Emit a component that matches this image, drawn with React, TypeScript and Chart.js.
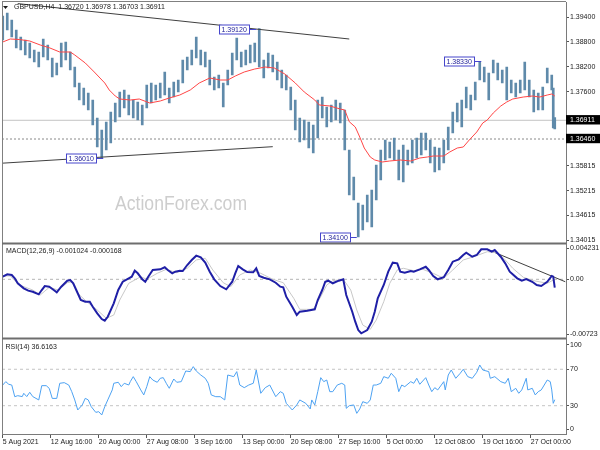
import React, { useEffect, useRef } from 'react';
import { Chart, registerables } from 'chart.js';

Chart.register(...registerables);

// ---------- data ----------
const dateLabels = ['5 Aug 2021', '12 Aug 16:00', '20 Aug 00:00', '27 Aug 08:00', '3 Sep 16:00', '13 Sep 00:00',
  '20 Sep 08:00', '27 Sep 16:00', '5 Oct 00:00', '12 Oct 08:00', '19 Oct 16:00', '27 Oct 00:00'];
const BARS_PER_LABEL = 32;

// H4 price bars (sampled every 3 bars), high / low
const barHigh = [
  1.39424, 1.39497, 1.39328, 1.39087, 1.38918, 1.38846, 1.38774, 1.38605, 1.38557, 1.38870,
  1.38726, 1.38412, 1.38292, 1.38774, 1.38798, 1.38557, 1.38195, 1.37810, 1.37689, 1.37569,
  1.37400, 1.36966, 1.36677, 1.36870, 1.37111, 1.37328, 1.37593, 1.37641, 1.37520, 1.37400,
  1.37352, 1.37280, 1.37761, 1.37810, 1.37761, 1.37810, 1.38075, 1.37689, 1.37834, 1.37882,
  1.38364, 1.38436, 1.38605, 1.38918, 1.38605, 1.38557, 1.38364, 1.37954, 1.38003, 1.37810,
  1.38123, 1.38533, 1.38894, 1.38557, 1.38605, 1.38726, 1.38774, 1.39120, 1.38364, 1.38533,
  1.38485, 1.38316, 1.38123, 1.38003, 1.37713, 1.37400, 1.36966, 1.36918, 1.36870, 1.36798,
  1.37400, 1.37472, 1.37231, 1.37280, 1.37400, 1.37328, 1.37159, 1.36195, 1.35544, 1.34918,
  1.34870, 1.35111, 1.35231, 1.35833, 1.36195, 1.36436, 1.36388, 1.36484, 1.36195, 1.36316,
  1.36195, 1.36436, 1.36484, 1.36605, 1.36605, 1.36436, 1.36267, 1.36243, 1.36436, 1.36749,
  1.37111, 1.37328, 1.37400, 1.37713, 1.37520, 1.37834, 1.38330, 1.38195, 1.38051, 1.38364,
  1.38292, 1.38123, 1.38195, 1.37882, 1.37810, 1.37882, 1.38316, 1.37882, 1.37641, 1.37569,
  1.37713, 1.38171, 1.38003, 1.37689, 1.36978];
const barLow = [
  1.38846, 1.39087, 1.38918, 1.38653, 1.38605, 1.38485, 1.38412, 1.38316, 1.38195, 1.38436,
  1.38364, 1.37954, 1.38003, 1.38195, 1.38364, 1.38123, 1.37713, 1.37400, 1.37280, 1.37159,
  1.36798, 1.36267, 1.36010, 1.36195, 1.36364, 1.36870, 1.36990, 1.37207, 1.37039, 1.36966,
  1.36918, 1.36798, 1.37207, 1.37328, 1.37400, 1.37448, 1.37520, 1.37328, 1.37472, 1.37593,
  1.37810, 1.38123, 1.38244, 1.38412, 1.38244, 1.38195, 1.37761, 1.37641, 1.37689, 1.37231,
  1.37761, 1.38003, 1.38364, 1.38195, 1.38244, 1.38292, 1.38316, 1.38195, 1.37930, 1.38171,
  1.38075, 1.37882, 1.37689, 1.37641, 1.37159, 1.36677, 1.36388, 1.36436, 1.36243, 1.36123,
  1.36484, 1.36966, 1.36749, 1.36870, 1.36918, 1.36846, 1.36195, 1.35111, 1.34990, 1.34100,
  1.34267, 1.34460, 1.34339, 1.34990, 1.35472, 1.35954, 1.36002, 1.35954, 1.35472, 1.35424,
  1.35833, 1.35882, 1.36002, 1.36075, 1.36195, 1.35882, 1.35665, 1.35713, 1.35882, 1.36195,
  1.36605, 1.36870, 1.36749, 1.37207, 1.37159, 1.37400, 1.37882, 1.37834, 1.37400, 1.38051,
  1.37882, 1.37810, 1.37400, 1.37569, 1.37472, 1.37569, 1.37641, 1.37472, 1.37111, 1.37159,
  1.37159, 1.37810, 1.37641, 1.36725, 1.36703];
const barIndex = barHigh.map((_, i) => (i < 123 ? i * 3 : 367 + (i - 123)));

// moving average [bar index, price]
const maLine: [number, number][] = [
  [0, 1.38798], [5, 1.3887], [11, 1.38858], [18, 1.38822], [25, 1.38726], [31, 1.3866], [38, 1.38557], [45, 1.38557],
  [48, 1.38485], [55, 1.38292], [61, 1.38075], [68, 1.3781], [71, 1.37641], [75, 1.37496], [78, 1.37424], [85, 1.374],
  [91, 1.37424], [98, 1.37328], [105, 1.37376], [111, 1.37448], [118, 1.3752], [125, 1.37641], [131, 1.3781], [138, 1.3793],
  [145, 1.37882], [150, 1.37882], [155, 1.37978], [161, 1.38075], [168, 1.38147], [175, 1.38195], [181, 1.38171], [188, 1.38027],
  [195, 1.3781], [201, 1.37593], [208, 1.374], [211, 1.3728], [218, 1.37256], [225, 1.37183], [228, 1.37159], [231, 1.36877],
  [235, 1.36749], [238, 1.36508], [241, 1.36243], [245, 1.36026], [248, 1.35954], [253, 1.35906], [258, 1.3593], [265, 1.35954],
  [272, 1.3593], [278, 1.36002], [283, 1.36026], [287, 1.3605], [294, 1.3605], [298, 1.36147], [303, 1.36243], [307, 1.36267],
  [311, 1.36436], [316, 1.36629], [320, 1.36846], [323, 1.36918], [327, 1.37087], [332, 1.37255], [336, 1.37352], [340, 1.37424],
  [347, 1.37472], [353, 1.37496], [358, 1.37472], [363, 1.3752], [366, 1.37545], [368, 1.37496]];

const topTrend: [number, number][] = [[10, 1.39723], [231, 1.3887]];
const bottomTrend: [number, number][] = [[-0.5, 1.35877], [180, 1.36275]];
const supportLevel = 1.3646;
const lastPrice = 1.36911;
const priceNotes = [
  { idx: 169, price: 1.3912, text: '1.39120' },
  { idx: 67, price: 1.3601, text: '1.36010' },
  { idx: 236, price: 1.341, text: '1.34100' },
  { idx: 319, price: 1.3833, text: '1.38330' },
];
const priceTicks = [1.394, 1.388, 1.382, 1.376, 1.36911, 1.3646, 1.35815, 1.35215, 1.34615, 1.34015];
const boxedTicks = [1.36911, 1.3646];

// MACD [bar index, value]
const macdLine: [number, number][] = [
  [0, 0.00032], [3, 0.00062], [6, 0.00053], [8, 0.00012], [10, -0.00049], [14, -0.00111], [17, -0.0014], [20, -0.00153],
  [24, -0.00185], [26, -0.00132], [28, -0.00083], [31, -0.00091], [34, -0.00132], [36, -0.0016], [39, -0.00091], [43, -0.00017],
  [45, -0.00009], [47, -0.00049], [49, -0.00132], [52, -0.00255], [55, -0.00276], [58, -0.00276], [60, -0.00338], [63, -0.00419],
  [66, -0.00489], [68, -0.0051], [70, -0.00461], [74, -0.00296], [77, -0.00132], [80, -0.0003], [84, 0.00012], [86, 0.00032],
  [88, 0.00106], [90, 0.00074], [93, 0], [95, -0.0003], [97, 0.00032], [100, 0.00115], [105, 0.00123], [108, 0.00148],
  [110, 0.00115], [113, 0.00074], [115, 0.00094], [118, 0.00106], [120, 0.00102], [123, 0.00176], [126, 0.00238], [129, 0.00291],
  [132, 0.00271], [135, 0.00205], [138, 0.00094], [141, 0], [145, -0.00083], [149, -0.00123], [153, -0.0003], [155, 0.00074],
  [157, 0.00164], [160, 0.00123], [163, 0.0009], [167, 0.00086], [169, 0.00136], [171, 0.00041], [174, 0.0002], [178, 0],
  [182, -0.00042], [185, -0.00091], [187, -0.00099], [189, -0.00214], [193, -0.00338], [196, -0.0044], [198, -0.00399], [203, -0.00387],
  [208, -0.0037], [210, -0.00255], [213, -0.00132], [215, -0.0003], [217, -0.00017], [220, -0.00049], [224, -0.00017], [227, 0],
  [229, -0.00193], [233, -0.00399], [235, -0.00522], [237, -0.00625], [239, -0.00665], [243, -0.00625], [246, -0.00522], [248, -0.00399],
  [250, -0.00234], [254, -0.0007], [257, 0.00094], [260, 0.00205], [263, 0.00197], [265, 0.00094], [268, 0.00081], [272, 0.00102],
  [274, 0.00094], [278, 0.00123], [282, 0.00155], [284, 0.00115], [287, 0.00041], [290, 0], [294, 0.00025], [297, 0.00115],
  [300, 0.00217], [304, 0.00246], [307, 0.00299], [309, 0.00328], [313, 0.00278], [316, 0.00299], [319, 0.0037], [323, 0.0037],
  [326, 0.0034], [328, 0.00361], [332, 0.00278], [335, 0.00197], [338, 0.00094], [343, 0.00012], [346, -0.00017], [349, 0.00004],
  [353, -0.0003], [356, -0.0007], [359, -0.00083], [363, -0.0003], [366, 0.00041], [367, 0.00032], [368, -0.00102]];
const signalLine: [number, number][] = [
  [0, 0.00041], [5, 0.00041], [11, -0.0007], [20, -0.00132], [25, -0.00193], [31, -0.00099], [37, -0.00132], [43, -0.00042],
  [46, -0.0003], [50, -0.00172], [56, -0.00276], [63, -0.00378], [69, -0.0048], [74, -0.0044], [78, -0.00255], [84, -0.00049],
  [92, 0.00032], [96, 0], [103, 0.00074], [109, 0.00123], [116, 0.00081], [123, 0.00136], [129, 0.00238], [135, 0.00259],
  [140, 0.00115], [147, -0.00042], [152, -0.00091], [158, 0.00053], [165, 0.00115], [172, 0.00074], [180, 0], [187, -0.00042],
  [194, -0.00234], [198, -0.0037], [207, -0.0037], [212, -0.00214], [216, -0.0007], [220, -0.00017], [227, 0], [232, -0.00132],
  [236, -0.00378], [240, -0.00563], [245, -0.00616], [249, -0.00501], [254, -0.00276], [258, -0.00049], [263, 0.00115], [267, 0.00136],
  [274, 0.00106], [280, 0.00123], [287, 0.00074], [294, 0.00012], [300, 0.00115], [307, 0.00238], [314, 0.00278], [323, 0.0034],
  [329, 0.00328], [334, 0.00259], [340, 0.00136], [347, 0.00025], [354, -0.00017], [363, -0.00049], [367, -0.00009], [368, -0.00017]];
const macdTrend: [number, number][] = [[324, 0.00361], [375, -0.0003]];
const macdAxisValues = [0.00382, 0, -0.00678];
const macdAxisLabels = ['0.004231', '0.00', '-0.00723'];

// RSI(14) [bar index, value]
const rsiLine: [number, number][] = [
  [0, 52.7], [2, 56.4], [4, 53.5], [6, 52.7], [8, 39.9], [10, 41], [13, 40], [14, 43.6], [16, 40], [18, 44.7], [20, 40], [24, 36.3],
  [26, 52], [29, 52], [31, 49], [33, 38], [36, 38], [38, 54.6], [41, 55.3], [44, 52.7], [46, 45.4], [48, 36.3], [50, 25.3], [53, 30.8],
  [55, 38.1], [57, 36.3], [59, 28.9], [62, 22.7], [64, 23.4], [66, 19.8], [68, 28.9], [70, 36.3], [73, 47.3], [74, 54.6], [77, 55.7],
  [79, 50.9], [81, 54.6], [84, 52.7], [85, 56.4], [87, 61.9], [89, 56.4], [92, 47.3], [94, 41.8], [96, 50.9], [98, 61.9], [100, 58.2],
  [103, 55.7], [105, 60.1], [107, 60.8], [109, 54.6], [111, 49.1], [114, 59.3], [116, 55.7], [119, 56.4], [122, 68.1], [125, 67.4],
  [127, 72.9], [129, 68.1], [132, 63.7], [135, 60.1], [137, 54.6], [139, 41.8], [142, 39.9], [145, 39.9], [148, 36.3], [150, 63.7],
  [154, 61.9], [156, 67.4], [158, 52.7], [161, 49.8], [164, 52.7], [167, 54.6], [169, 69.2], [172, 43.6], [175, 49.8], [178, 52.7],
  [182, 39.9], [185, 45.4], [187, 43.6], [189, 32.6], [193, 25.3], [196, 30.8], [198, 36.3], [202, 32.6], [205, 26.4], [206, 36.3],
  [208, 30.8], [210, 45.4], [212, 60.8], [214, 56.4], [216, 58.2], [218, 45.4], [220, 45.4], [223, 52.7], [226, 54.6], [228, 52.7],
  [229, 27.1], [231, 30], [234, 30.8], [236, 21.6], [238, 26.4], [240, 34.4], [243, 32.6], [245, 36.3], [247, 52.7], [249, 52.7],
  [252, 54.6], [254, 61.9], [257, 60.1], [259, 65.6], [262, 60.1], [264, 45.4], [266, 52.7], [268, 50.9], [272, 56.4], [274, 54.6],
  [276, 60.1], [278, 53.5], [282, 60.8], [284, 52.7], [286, 45.4], [288, 49.8], [290, 47.3], [294, 56.4], [295, 47.3], [297, 63.7],
  [299, 69.2], [302, 60.1], [305, 65.6], [307, 70], [310, 61.9], [313, 60.1], [316, 66.7], [318, 74.7], [320, 69.2], [324, 67.4],
  [325, 60.1], [328, 61.9], [332, 56.4], [335, 54.6], [337, 60.1], [339, 45.4], [342, 49.1], [344, 43.6], [346, 47.3], [349, 60.1],
  [350, 47.3], [353, 49.1], [355, 41.8], [357, 45.4], [359, 47.3], [363, 58.2], [365, 56.4], [366, 47.3], [367, 32.6], [368, 36.6]];
const rsiLevels = [70, 30];
const rsiAxisValues = [96.7, 70, 30, 4];
const rsiAxisLabels = ['100', '70', '30', '0'];

const mainTitle = 'GBPUSD,H4  1.36720 1.36978 1.36703 1.36911';
const macdTitle = 'MACD(12,26,9) -0.001024 -0.000168';
const rsiTitle = 'RSI(14) 36.6163';
const watermark = 'ActionForex.com';

// ---------- helpers ----------
const X_MIN = -0.5;
const X_MAX = 375.5;
const FONT = '"Liberation Sans", Arial, sans-serif';
const xy = (pairs: [number, number][]) => pairs.map(([x, y]) => ({ x, y }));
const hline = (v: number) => [{ x: X_MIN, y: v }, { x: X_MAX, y: v }];

const lineDs = (data: any[], yAxisID: string, color: string, width: number, dash: number[] = []) => ({
  type: 'line' as const, data, yAxisID, xAxisID: 'x', borderColor: color, borderWidth: width, borderDash: dash,
  pointRadius: 0, tension: 0, fill: false,
});

const decor = {
  id: 'mtDecor',
  beforeDraw(chart: any) {
    const { ctx } = chart;
    ctx.save();
    ctx.fillStyle = '#ffffff';
    ctx.fillRect(0, 0, chart.width, chart.height);
    ctx.restore();
  },
  beforeDatasetsDraw(chart: any) {
    const { ctx } = chart;
    ctx.save();
    ctx.translate(115, 209.5);
    ctx.scale(0.88, 1);
    ctx.font = `20px ${FONT}`;
    ctx.fillStyle = '#cdcdcd';
    ctx.textBaseline = 'alphabetic';
    ctx.fillText(watermark, 0, 0);
    ctx.restore();
  },
  afterDatasetsDraw(chart: any) {
    const { ctx } = chart;
    const xs = chart.scales.x;
    const ys = chart.scales.y;
    ctx.save();
    ctx.font = `7px ${FONT}`;
    ctx.textBaseline = 'middle';
    for (const n of priceNotes) {
      const px = xs.getPixelForValue(n.idx);
      const py = Math.round(ys.getPixelForValue(n.price)) + 0.5;
      const w = Math.ceil(ctx.measureText(n.text).width) + 4;
      const right = Math.round(px - 7) + 0.5;
      const left = right - w;
      ctx.fillStyle = '#ffffff';
      ctx.fillRect(left, py - 4.5, w, 9);
      ctx.strokeStyle = '#4646cc';
      ctx.lineWidth = 1;
      ctx.strokeRect(left, py - 4.5, w, 9);
      ctx.beginPath();
      ctx.moveTo(right, py);
      ctx.lineTo(px, py);
      ctx.stroke();
      ctx.fillStyle = '#22229a';
      ctx.textAlign = 'left';
      ctx.fillText(n.text, left + 2, py + 0.5);
    }
    ctx.fillStyle = '#1a1a1a';
    ctx.beginPath();
    ctx.moveTo(3, 6);
    ctx.lineTo(8, 6);
    ctx.lineTo(5.5, 9);
    ctx.closePath();
    ctx.fill();
    ctx.fillText(mainTitle, 14, 7.5);
    const macdTop = chart.scales.yMacd.top;
    const rsiTop = chart.scales.yRsi.top;
    ctx.fillText(macdTitle, 6, macdTop + 7.5);
    ctx.fillText(rsiTitle, 5.5, rsiTop + 9);
    ctx.restore();
  },
  afterDraw(chart: any) {
    const { ctx, chartArea } = chart;
    const l = chartArea.left;
    const r = chartArea.right;
    ctx.save();
    ctx.strokeStyle = '#808080';
    ctx.lineWidth = 1;
    ctx.beginPath();
    ctx.moveTo(l + 0.5, 1);
    ctx.lineTo(l + 0.5, chartArea.bottom);
    ctx.moveTo(l, 1.5);
    ctx.lineTo(r, 1.5);
    ctx.stroke();
    ctx.strokeStyle = '#6e6e6e';
    ctx.lineWidth = 2;
    ctx.beginPath();
    const t1 = chart.scales.yMacd.top;
    const t2 = chart.scales.yRsi.top;
    ctx.moveTo(l, t1);
    ctx.lineTo(r, t1);
    ctx.moveTo(l, t2);
    ctx.lineTo(r, t2);
    ctx.stroke();
    ctx.restore();
  },
};

const yCommon = (min: number, max: number, weight: number) => ({
  type: 'linear' as const,
  position: 'right' as const,
  stack: 'panes',
  stackWeight: weight,
  min,
  max,
  grid: { drawOnChartArea: false, drawTicks: true, tickLength: 3, color: '#555' },
  border: { display: true, color: '#7a7a7a' },
  afterFit: (s: any) => { s.width = 34; s.paddingTop = 0; s.paddingBottom = 0; },
});

export default function App() {
  const ref = useRef<HTMLCanvasElement>(null);
  useEffect(() => {
    if (!ref.current) return;
    Chart.defaults.font.family = FONT;
    Chart.defaults.font.size = 7;
    Chart.defaults.color = '#1a1a1a';

    const bars = barHigh.map((h, i) => ({ x: barIndex[i], y: [barLow[i], h] }));

    const chart = new Chart(ref.current, {
      type: 'line',
      data: {
        datasets: [
          lineDs(xy(maLine), 'y', '#ff4646', 1),
          lineDs(xy(topTrend), 'y', '#404040', 1),
          lineDs(xy(bottomTrend), 'y', '#404040', 1),
          {
            type: 'bar', data: bars as any, yAxisID: 'y', xAxisID: 'x', backgroundColor: '#5f8aaa',
            borderWidth: 0, barThickness: 2, grouped: false,
          } as any,
          lineDs(hline(lastPrice), 'y', '#c4c4c4', 1),
          lineDs(hline(supportLevel), 'y', '#8a8a8a', 1, [2, 2]),
          lineDs(xy(macdLine), 'yMacd', '#1f1fa6', 2),
          lineDs(xy(signalLine), 'yMacd', '#c8c8c8', 1),
          lineDs(xy(macdTrend), 'yMacd', '#404040', 1),
          lineDs(hline(0), 'yMacd', '#b4b4b4', 1, [3, 3]),
          lineDs(xy(rsiLine), 'yRsi', '#4da2f2', 1),
          ...rsiLevels.map((v) => lineDs(hline(v), 'yRsi', '#c4c4c4', 1, [3, 3])),
        ] as any,
      },
      options: {
        responsive: false,
        animation: false,
        events: [],
        layout: { padding: { top: 2, left: 2, right: 0, bottom: 0 } },
        plugins: { legend: { display: false }, tooltip: { enabled: false }, title: { display: false } },
        scales: {
          x: {
            type: 'linear',
            position: 'bottom',
            min: X_MIN,
            max: X_MAX,
            offset: false,
            grid: { drawOnChartArea: false, offset: false, tickLength: 4, color: '#555' },
            border: { display: true, color: '#7a7a7a' },
            ticks: {
              align: 'start', maxRotation: 0, minRotation: 0, autoSkip: false, padding: 0,
              callback: (v: any) => dateLabels[Math.round(Number(v) / BARS_PER_LABEL)] ?? '',
            },
            afterBuildTicks: (s: any) => { s.ticks = dateLabels.map((_, i) => ({ value: i * BARS_PER_LABEL })); },
            afterFit: (s: any) => { s.height = 16; s.paddingLeft = 0; s.paddingRight = 0; },
          },
          y: {
            ...yCommon(1.339416, 1.39762, 241.5),
            ticks: {
              autoSkip: false, padding: 1,
              callback: (v: any) => Number(v).toFixed(5),
              showLabelBackdrop: (c: any) => boxedTicks.includes(c.tick?.value),
              backdropColor: '#000000',
              backdropPadding: { top: 1, bottom: 0, left: 4, right: 6 },
              color: (c: any) => (boxedTicks.includes(c.tick?.value) ? '#ffffff' : '#1a1a1a'),
            },
            afterBuildTicks: (s: any) => { s.ticks = priceTicks.map((v) => ({ value: v })); },
          },
          yMacd: {
            ...yCommon(-0.00729, 0.00441, 95),
            ticks: {
              autoSkip: false, padding: 1,
              callback: (_v: any, i: number) => macdAxisLabels[i],
            },
            afterBuildTicks: (s: any) => { s.ticks = macdAxisValues.map((v) => ({ value: v })); },
          },
          yRsi: {
            ...yCommon(-1.1, 103.8, 95.5),
            ticks: {
              autoSkip: false, padding: 1,
              callback: (_v: any, i: number) => rsiAxisLabels[i],
            },
            afterBuildTicks: (s: any) => { s.ticks = rsiAxisValues.map((v) => ({ value: v })); },
          },
        } as any,
      },
      plugins: [decor],
    });
    return () => chart.destroy();
  }, []);

  return (
    <div style={{ position: 'fixed', left: 0, top: 0, width: 600, height: 450, background: '#fff' }}>
      <canvas ref={ref} width={600} height={450} style={{ display: 'block', width: 600, height: 450 }} />
    </div>
  );
}
